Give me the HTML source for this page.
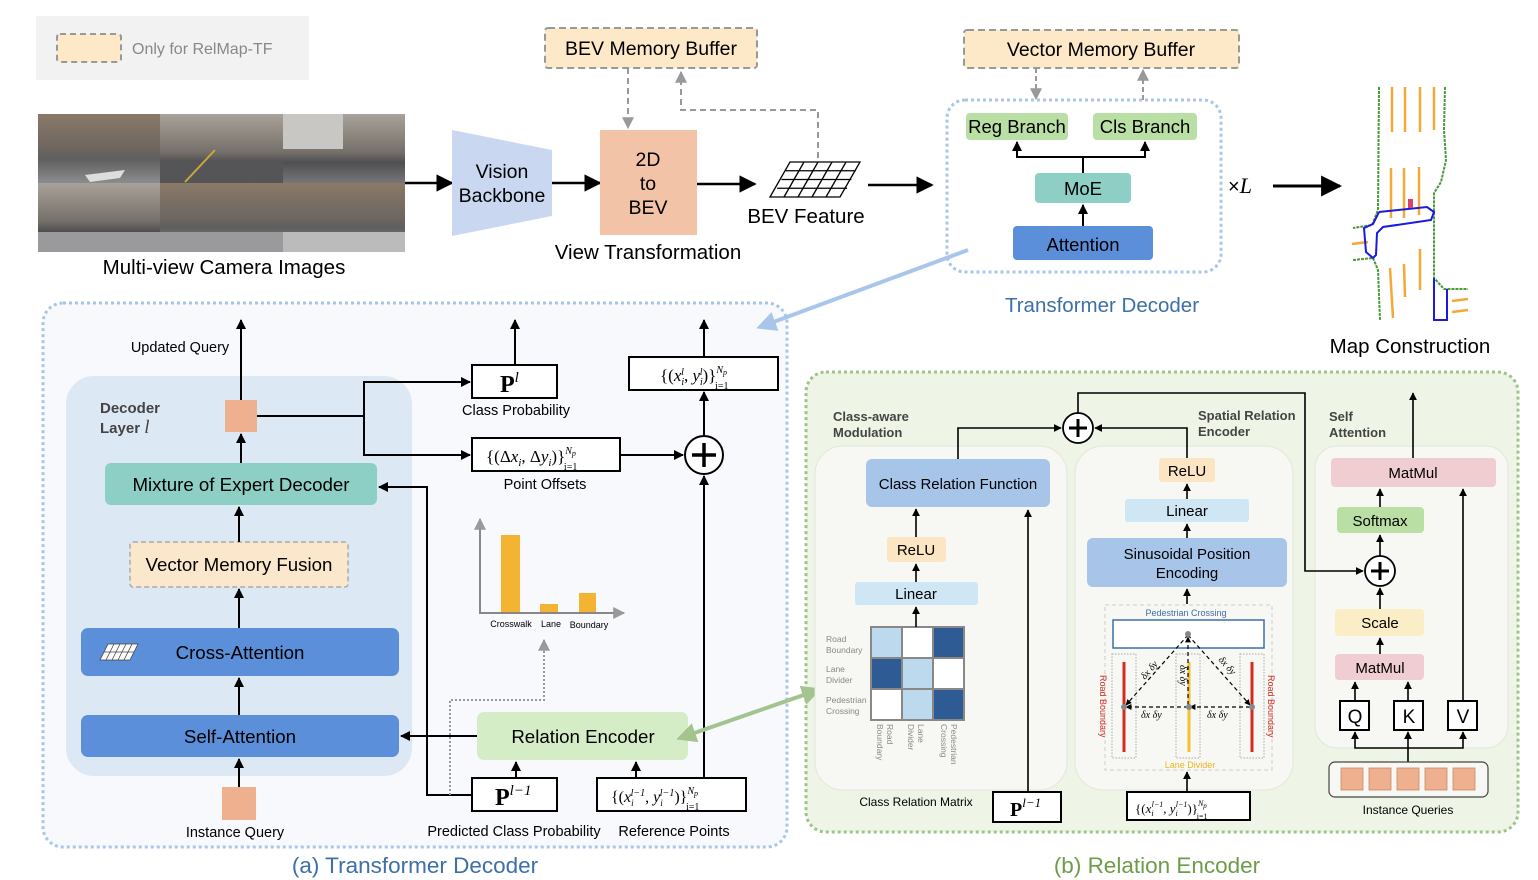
<!DOCTYPE html>
<html><head><meta charset="utf-8"><style>
html,body{margin:0;padding:0;background:#fff;}
svg{display:block;font-family:"Liberation Sans",sans-serif;}
.m{font-family:"Liberation Serif",serif;}
</style></head><body>
<svg width="1538" height="880" viewBox="0 0 1538 880" xmlns="http://www.w3.org/2000/svg">
<defs>
<marker id="a" viewBox="0 0 10 10" refX="9" refY="5" markerWidth="7" markerHeight="7" orient="auto-start-reverse"><path d="M0,0 L10,5 L0,10 z" fill="#000"/></marker>
<marker id="ag" viewBox="0 0 10 10" refX="9" refY="5" markerWidth="6" markerHeight="6" orient="auto-start-reverse"><path d="M0,0 L10,5 L0,10 z" fill="#999"/></marker>
<marker id="ab" viewBox="0 0 10 10" refX="8" refY="5" markerWidth="5" markerHeight="5" orient="auto-start-reverse"><path d="M0,0 L10,5 L0,10 z" fill="#a9c6ea"/></marker>
<marker id="agr" viewBox="0 0 10 10" refX="8" refY="5" markerWidth="5" markerHeight="5" orient="auto-start-reverse"><path d="M0,0 L10,5 L0,10 z" fill="#a3c48f"/></marker>
<marker id="as" viewBox="0 0 10 10" refX="9" refY="5" markerWidth="5" markerHeight="5" orient="auto-start-reverse"><path d="M0,0 L10,5 L0,10 z" fill="#000"/></marker>
<linearGradient id="cam" x1="0" y1="0" x2="0" y2="1"><stop offset="0" stop-color="#8a7a68"/><stop offset="0.5" stop-color="#6e6660"/><stop offset="0.65" stop-color="#5f5f60"/><stop offset="1" stop-color="#8c8c8e"/></linearGradient>
<linearGradient id="cam2" x1="0" y1="0" x2="0" y2="1"><stop offset="0" stop-color="#a9a29a"/><stop offset="0.55" stop-color="#76706a"/><stop offset="0.7" stop-color="#4f4f52"/><stop offset="1" stop-color="#77777a"/></linearGradient>
</defs>

<rect x="36" y="16" width="273" height="64" fill="#f2f2f2"/>
<rect x="57" y="34" width="64" height="28" rx="3" fill="#fde8c8" stroke="#999" stroke-width="2" stroke-dasharray="6,4"/>
<text x="132" y="54" font-size="16" fill="#888">Only for RelMap-TF</text>

<rect x="38" y="114" width="122" height="69" fill="url(#cam)"/>
<rect x="160" y="114" width="123" height="69" fill="url(#cam2)"/>
<rect x="283" y="114" width="122" height="69" fill="url(#cam2)"/>
<rect x="38" y="183" width="122" height="69" fill="url(#cam2)"/>
<rect x="160" y="183" width="123" height="69" fill="url(#cam)"/>
<rect x="283" y="183" width="122" height="69" fill="url(#cam)"/>
<rect x="283" y="114" width="60" height="35" fill="#c9c7c4"/>
<rect x="160" y="160" width="123" height="23" fill="#555558"/>
<rect x="38" y="232" width="367" height="20" fill="#9a9a9c"/>
<polygon points="85,175 125,170 120,178 90,182" fill="#ddd"/>
<line x1="185" y1="182" x2="215" y2="150" stroke="#c9a93a" stroke-width="2"/>
<rect x="283" y="232" width="122" height="20" fill="#bbb"/>
<text x="224" y="274" font-size="20.5" text-anchor="middle">Multi-view Camera Images</text>
<line x1="405" y1="183" x2="452" y2="183" stroke="#000" stroke-width="2.5" marker-end="url(#a)"/>

<polygon points="452,130 552,150 552,216 452,236" fill="#c9d8f0"/>
<text x="502" y="178" font-size="19.5" text-anchor="middle">Vision</text>
<text x="502" y="202" font-size="19.5" text-anchor="middle">Backbone</text>
<line x1="552" y1="183" x2="600" y2="183" stroke="#000" stroke-width="2.5" marker-end="url(#a)"/>
<rect x="600" y="130" width="97" height="105" fill="#f2c3a6"/>
<text x="648" y="166" font-size="19.5" text-anchor="middle">2D</text>
<text x="648" y="190" font-size="19.5" text-anchor="middle">to</text>
<text x="648" y="214" font-size="19.5" text-anchor="middle">BEV</text>
<text x="648" y="259" font-size="20.5" text-anchor="middle">View Transformation</text>
<line x1="697" y1="184" x2="755" y2="184" stroke="#000" stroke-width="2.5" marker-end="url(#a)"/>
<g stroke="#000" stroke-width="1.3" fill="#fff">
<polygon points="790,162 860,162 840,197 770,197"/>
<line x1="785.7" y1="170.75" x2="855.7" y2="170.75"/><line x1="781.4" y1="179.5" x2="851.4" y2="179.5"/><line x1="777.1" y1="188.25" x2="847.1" y2="188.25"/>
<line x1="804" y1="162" x2="784" y2="197"/><line x1="818" y1="162" x2="798" y2="197"/><line x1="832" y1="162" x2="812" y2="197"/><line x1="846" y1="162" x2="826" y2="197"/>
</g>
<text x="806" y="223" font-size="20.5" text-anchor="middle">BEV Feature</text>
<rect x="545" y="28" width="212" height="40" rx="3" fill="#fde8c8" stroke="#999" stroke-width="2" stroke-dasharray="7,4"/>
<text x="651" y="55" font-size="19.5" text-anchor="middle">BEV Memory Buffer</text>
<line x1="628" y1="68" x2="628" y2="128" stroke="#999" stroke-width="2" stroke-dasharray="6,4" marker-end="url(#ag)"/>
<polyline points="818,158 818,110 681,110 681,72" fill="none" stroke="#999" stroke-width="2" stroke-dasharray="6,4" marker-end="url(#ag)"/>

<line x1="868" y1="185" x2="932" y2="185" stroke="#000" stroke-width="2.5" marker-end="url(#a)"/>
<rect x="964" y="30" width="275" height="38" rx="3" fill="#fde8c8" stroke="#999" stroke-width="2" stroke-dasharray="7,4"/>
<text x="1101" y="56" font-size="19.5" text-anchor="middle">Vector Memory Buffer</text>
<line x1="1036" y1="68" x2="1036" y2="99" stroke="#999" stroke-width="2" stroke-dasharray="5,3" marker-end="url(#ag)"/>
<line x1="1143" y1="100" x2="1143" y2="70" stroke="#999" stroke-width="2" stroke-dasharray="5,3" marker-end="url(#ag)"/>
<rect x="947" y="100" width="274" height="172" rx="18" fill="#fff" stroke="#a9c6ea" stroke-width="3" stroke-dasharray="3,3"/>
<rect x="966" y="113" width="102" height="27" rx="4" fill="#b9dfa5"/>
<text x="1017" y="133" font-size="18.5" text-anchor="middle">Reg Branch</text>
<rect x="1093" y="113" width="104" height="27" rx="4" fill="#b9dfa5"/>
<text x="1145" y="133" font-size="18.5" text-anchor="middle">Cls Branch</text>
<rect x="1035" y="173" width="96" height="30" rx="4" fill="#8ecfc5"/>
<text x="1083" y="195" font-size="18.5" text-anchor="middle">MoE</text>
<rect x="1013" y="226" width="140" height="34" rx="4" fill="#5b8fd9"/>
<text x="1083" y="251" font-size="18.5" text-anchor="middle">Attention</text>
<line x1="1083" y1="226" x2="1083" y2="205" stroke="#000" stroke-width="2" marker-end="url(#as)"/>
<polyline points="1083,173 1083,157 1017,157 1017,142" fill="none" stroke="#000" stroke-width="2" marker-end="url(#as)"/>
<polyline points="1083,157 1145,157 1145,142" fill="none" stroke="#000" stroke-width="2" marker-end="url(#as)"/>
<text x="1102" y="312" font-size="20.5" text-anchor="middle" fill="#3d6fa8">Transformer Decoder</text>
<text x="1228" y="193" font-size="20">×<tspan class="m" font-style="italic" font-size="22">L</tspan></text>
<line x1="1273" y1="186" x2="1340" y2="186" stroke="#000" stroke-width="3" marker-end="url(#a)"/>

<g fill="none" stroke-width="2">
<g stroke="#f3a93a" stroke-width="2.5">
<line x1="1392" y1="87" x2="1392" y2="132"/><line x1="1405" y1="87" x2="1405" y2="132"/><line x1="1420" y1="87" x2="1420" y2="132"/><line x1="1434" y1="87" x2="1434" y2="130"/>
<line x1="1391" y1="168" x2="1391" y2="218"/><line x1="1404" y1="168" x2="1404" y2="218"/><line x1="1419" y1="167" x2="1419" y2="215"/>
<line x1="1390" y1="268" x2="1393" y2="318"/><line x1="1404" y1="264" x2="1405" y2="297"/><line x1="1420" y1="249" x2="1420" y2="290"/>
<line x1="1352" y1="244" x2="1368" y2="242"/><line x1="1452" y1="301" x2="1468" y2="299"/><line x1="1452" y1="312" x2="1468" y2="310"/>
</g>
<polyline stroke="#4a9a3a" stroke-dasharray="3,1" points="1379,87 1378,210 1372,225 1353,228"/>
<polyline stroke="#4a9a3a" stroke-dasharray="3,1" points="1353,260 1373,258 1378,270 1380,320"/>
<polyline stroke="#4a9a3a" stroke-dasharray="3,1" points="1445,87 1444,130 1446,160 1441,182 1434,193 1434,278 1444,289 1468,289"/>
<polyline stroke="#1a1ae0" points="1379,212 1427,207 1434,212 1431,220 1383,227 1377,233 1376,255 1373,258 1366,252 1364,228 1373,224 1379,212"/>
<polyline stroke="#1a1ae0" points="1434,278 1434,320 1447,320 1447,289"/>
<rect x="1408" y="199" width="5" height="9" fill="#d9406a" stroke="none"/>
</g>
<text x="1410" y="353" font-size="20.5" text-anchor="middle">Map Construction</text>

<rect x="43" y="303" width="744" height="544" rx="20" fill="#f7f9fd" stroke="#a9c6ea" stroke-width="3" stroke-dasharray="3,3"/>
<rect x="66" y="376" width="346" height="400" rx="28" fill="#dde8f5"/>
<text x="100" y="413" font-size="15" font-weight="bold" fill="#444">Decoder</text>
<text x="100" y="433" font-size="15" font-weight="bold" fill="#444">Layer <tspan class="m" font-style="italic" font-size="19" font-weight="normal">l</tspan></text>
<rect x="225" y="400" width="32" height="32" fill="#eeb08f"/>
<rect x="105" y="463" width="272" height="42" rx="6" fill="#8ecfc5"/>
<text x="241" y="491" font-size="18.7" text-anchor="middle">Mixture of Expert Decoder</text>
<rect x="130" y="542" width="218" height="45" rx="3" fill="#fbe8cc" stroke="#aaa" stroke-width="1.5" stroke-dasharray="5,3"/>
<text x="239" y="571" font-size="18.7" text-anchor="middle">Vector Memory Fusion</text>
<rect x="81" y="628" width="318" height="48" rx="7" fill="#5b8fd9"/>
<text x="240" y="659" font-size="18.7" text-anchor="middle">Cross-Attention</text>
<g stroke="#444" stroke-width="0.8" fill="#fff">
<polygon points="108,644 138,644 130,660 100,660"/>
<line x1="104" y1="652" x2="134" y2="652"/><line x1="114" y1="644" x2="106" y2="660"/><line x1="120" y1="644" x2="112" y2="660"/><line x1="126" y1="644" x2="118" y2="660"/><line x1="132" y1="644" x2="124" y2="660"/>
</g>
<rect x="81" y="715" width="318" height="42" rx="7" fill="#5b8fd9"/>
<text x="240" y="743" font-size="18.7" text-anchor="middle">Self-Attention</text>
<rect x="222" y="787" width="34" height="33" fill="#eeb08f"/>
<text x="235" y="837" font-size="14.5" text-anchor="middle">Instance Query</text>
<g stroke="#000" stroke-width="2" fill="none">
<line x1="239" y1="787" x2="239" y2="759" marker-end="url(#as)"/>
<line x1="239" y1="715" x2="239" y2="678" marker-end="url(#as)"/>
<line x1="239" y1="628" x2="239" y2="589" marker-end="url(#as)"/>
<line x1="239" y1="542" x2="239" y2="507" marker-end="url(#as)"/>
<line x1="241" y1="463" x2="241" y2="434" marker-end="url(#as)"/>
<line x1="241" y1="400" x2="241" y2="320" marker-end="url(#as)"/>
<polyline points="257,416 364,416 364,382 470,382" marker-end="url(#as)"/>
<polyline points="364,416 364,455 470,455" marker-end="url(#as)"/>
<line x1="515" y1="365" x2="515" y2="320" marker-end="url(#as)"/>
<line x1="620" y1="455" x2="683" y2="455" marker-end="url(#as)"/>
<line x1="704" y1="436" x2="704" y2="392" marker-end="url(#as)"/>
<line x1="704" y1="357" x2="704" y2="320" marker-end="url(#as)"/>
<line x1="704" y1="778" x2="704" y2="476" marker-end="url(#as)"/>
<line x1="477" y1="736" x2="401" y2="736" marker-end="url(#as)"/>
<polyline points="472,795 427,795 427,487 379,487" marker-end="url(#as)"/>
<line x1="516" y1="778" x2="516" y2="762" marker-end="url(#as)"/>
<line x1="636" y1="778" x2="636" y2="762" marker-end="url(#as)"/>
</g>
<text x="180" y="352" font-size="14.5" text-anchor="middle">Updated Query</text>
<rect x="472" y="365" width="85" height="33" fill="#fff" stroke="#000" stroke-width="2"/>
<text x="500" y="392" class="m" font-size="24" font-weight="bold">P<tspan font-size="15" font-weight="normal" font-style="italic" dy="-10">l</tspan></text>
<text x="516" y="415" font-size="14.5" text-anchor="middle">Class Probability</text>
<rect x="472" y="438" width="148" height="33" fill="#fff" stroke="#000" stroke-width="2"/>
<text x="486" y="462" class="m" font-size="17">{(Δ<tspan font-style="italic">x</tspan><tspan font-size="11" font-style="italic" dy="4">i</tspan><tspan dy="-4">, Δ</tspan><tspan font-style="italic">y</tspan><tspan font-size="11" font-style="italic" dy="4">i</tspan><tspan dy="-4">)}</tspan><tspan font-size="10" font-style="italic" dy="-8">N</tspan><tspan font-size="8" font-style="italic" dy="2">p</tspan><tspan font-size="10" dx="-12" dy="14">i=1</tspan></text>
<text x="545" y="489" font-size="14.5" text-anchor="middle">Point Offsets</text>
<rect x="629" y="357" width="149" height="33" fill="#fff" stroke="#000" stroke-width="2"/>
<text x="660" y="381" class="m" font-size="17">{(<tspan font-style="italic">x</tspan><tspan font-size="10" font-style="italic" dy="4">i</tspan><tspan font-size="10" font-style="italic" dx="-3" dy="-10">l</tspan><tspan dy="6">, </tspan><tspan font-style="italic">y</tspan><tspan font-size="10" font-style="italic" dy="4">i</tspan><tspan font-size="10" font-style="italic" dx="-3" dy="-10">l</tspan><tspan dy="6">)}</tspan><tspan font-size="10" font-style="italic" dy="-8">N</tspan><tspan font-size="8" font-style="italic" dy="2">p</tspan><tspan font-size="10" dx="-12" dy="14">i=1</tspan></text>
<circle cx="704" cy="455" r="19" fill="#fff" stroke="#000" stroke-width="2"/>
<path d="M692,455 H716 M704,443 V467" stroke="#000" stroke-width="3.5"/>
<rect x="501" y="535" width="19" height="78" fill="#f3b431"/>
<rect x="540" y="604" width="18" height="9" fill="#f3b431"/>
<rect x="579" y="593" width="17" height="20" fill="#f3b431"/>
<line x1="480" y1="613" x2="480" y2="519" stroke="#888" stroke-width="2" marker-end="url(#ag)"/>
<line x1="479" y1="613" x2="624" y2="613" stroke="#888" stroke-width="2" marker-end="url(#ag)"/>
<text x="511" y="627" font-size="9" text-anchor="middle">Crosswalk</text>
<text x="551" y="627" font-size="9" text-anchor="middle">Lane</text>
<text x="589" y="628" font-size="9" text-anchor="middle">Boundary</text>
<polyline points="450,795 450,700 544,700 544,640" fill="none" stroke="#999" stroke-width="2" stroke-dasharray="2,2" marker-end="url(#ag)"/>
<rect x="477" y="712" width="211" height="48" rx="7" fill="#d5edc6"/>
<text x="583" y="743" font-size="18.7" text-anchor="middle">Relation Encoder</text>
<rect x="472" y="778" width="85" height="33" fill="#fff" stroke="#000" stroke-width="2"/>
<text x="495" y="805" class="m" font-size="24" font-weight="bold">P<tspan font-size="15" font-weight="normal" font-style="italic" dy="-10">l−1</tspan></text>
<rect x="597" y="778" width="149" height="33" fill="#fff" stroke="#000" stroke-width="2"/>
<text x="611" y="802" class="m" font-size="16">{(<tspan font-style="italic">x</tspan><tspan font-size="9" font-style="italic" dy="4">i</tspan><tspan font-size="10" font-style="italic" dx="-3" dy="-10">l−1</tspan><tspan dy="6">, </tspan><tspan font-style="italic">y</tspan><tspan font-size="9" font-style="italic" dy="4">i</tspan><tspan font-size="10" font-style="italic" dx="-3" dy="-10">l−1</tspan><tspan dy="6">)}</tspan><tspan font-size="10" font-style="italic" dy="-8">N</tspan><tspan font-size="8" font-style="italic" dy="2">p</tspan><tspan font-size="10" dx="-12" dy="14">i=1</tspan></text>
<text x="514" y="836" font-size="14.5" text-anchor="middle">Predicted Class Probability</text>
<text x="674" y="836" font-size="14.5" text-anchor="middle">Reference Points</text>
<text x="415" y="873" font-size="22.5" text-anchor="middle" fill="#3d6fa8">(a) Transformer Decoder</text>
<line x1="968" y1="250" x2="760" y2="327" stroke="#a9c6ea" stroke-width="4" marker-end="url(#ab)"/>

<rect x="806" y="372" width="712" height="460" rx="20" fill="#eef4e6" stroke="#9fc48a" stroke-width="3" stroke-dasharray="3,3"/>
<line x1="818" y1="690" x2="680" y2="738" stroke="#a3c48f" stroke-width="4" marker-end="url(#agr)" marker-start="url(#agr)"/>
<rect x="815" y="446" width="252" height="344" rx="28" fill="#f7f8f4" stroke="#e2e6dc"/>
<rect x="1075" y="446" width="218" height="344" rx="28" fill="#f7f8f4" stroke="#e2e6dc"/>
<rect x="1315" y="446" width="193" height="302" rx="22" fill="#f7f8f4" stroke="#e2e6dc"/>
<g font-size="13" font-weight="bold" fill="#444">
<text x="833" y="421">Class-aware</text><text x="833" y="437">Modulation</text>
<text x="1198" y="420">Spatial Relation</text><text x="1198" y="436">Encoder</text>
<text x="1329" y="421">Self</text><text x="1329" y="437">Attention</text>
</g>
<rect x="866" y="459" width="184" height="48" rx="6" fill="#a7c4e9"/>
<text x="958" y="489" font-size="15" text-anchor="middle">Class Relation Function</text>
<rect x="887" y="537" width="59" height="25" rx="3" fill="#fbe5c3"/>
<text x="916" y="555" font-size="15" text-anchor="middle">ReLU</text>
<rect x="855" y="582" width="123" height="23" rx="3" fill="#cfe6f5"/>
<text x="916" y="599" font-size="15" text-anchor="middle">Linear</text>
<g stroke="#888" stroke-width="2">
<rect x="871" y="627" width="31" height="31" fill="#bcd9ee"/><rect x="902" y="627" width="31" height="31" fill="#fff"/><rect x="933" y="627" width="31" height="31" fill="#2f5b94"/>
<rect x="871" y="658" width="31" height="31" fill="#2f5b94"/><rect x="902" y="658" width="31" height="31" fill="#bcd9ee"/><rect x="933" y="658" width="31" height="31" fill="#fff"/>
<rect x="871" y="689" width="31" height="31" fill="#fff"/><rect x="902" y="689" width="31" height="31" fill="#bcd9ee"/><rect x="933" y="689" width="31" height="31" fill="#2f5b94"/>
</g>
<g font-size="8.5" fill="#888">
<text x="826" y="642">Road</text><text x="826" y="653">Boundary</text>
<text x="826" y="672">Lane</text><text x="826" y="683">Divider</text>
<text x="826" y="703">Pedestrian</text><text x="826" y="714">Crossing</text>
<text transform="translate(887,724) rotate(90)">Road</text><text transform="translate(877,724) rotate(90)">Boundary</text>
<text transform="translate(918,724) rotate(90)">Lane</text><text transform="translate(908,724) rotate(90)">Divider</text>
<text transform="translate(951,724) rotate(90)">Pedestrian</text><text transform="translate(941,724) rotate(90)">Crossing</text>
</g>
<text x="916" y="806" font-size="12" text-anchor="middle">Class Relation Matrix</text>
<rect x="993" y="792" width="68" height="30" fill="#fff" stroke="#000" stroke-width="2"/>
<text x="1010" y="816" class="m" font-size="20" font-weight="bold">P<tspan font-size="13" font-weight="normal" font-style="italic" dy="-9">l−1</tspan></text>
<g stroke="#000" stroke-width="1.6" fill="none">
<line x1="1028" y1="792" x2="1028" y2="510" marker-end="url(#as)"/>
<line x1="916" y1="627" x2="916" y2="607" marker-end="url(#as)"/>
<line x1="916" y1="582" x2="916" y2="564" marker-end="url(#as)"/>
<line x1="916" y1="537" x2="916" y2="509" marker-end="url(#as)"/>
<polyline points="958,459 958,428 1061,428" marker-end="url(#as)"/>
<polyline points="1187,458 1187,428 1095,428" marker-end="url(#as)"/>
<polyline points="1078,413 1078,393 1305,393 1305,571 1363,571" marker-end="url(#as)"/>
<line x1="1187" y1="499" x2="1187" y2="484" marker-end="url(#as)"/>
<line x1="1187" y1="538" x2="1187" y2="524" marker-end="url(#as)"/>
<line x1="1187" y1="604" x2="1187" y2="589" marker-end="url(#as)"/>
<line x1="1187" y1="792" x2="1187" y2="772" marker-end="url(#as)"/>
<line x1="1413" y1="458" x2="1413" y2="393" marker-end="url(#as)"/>
<line x1="1380" y1="507" x2="1380" y2="489" marker-end="url(#as)"/>
<line x1="1380" y1="556" x2="1380" y2="535" marker-end="url(#as)"/>
<line x1="1380" y1="609" x2="1380" y2="588" marker-end="url(#as)"/>
<line x1="1380" y1="654" x2="1380" y2="638" marker-end="url(#as)"/>
<line x1="1355" y1="701" x2="1355" y2="682" marker-end="url(#as)"/>
<line x1="1408" y1="701" x2="1408" y2="682" marker-end="url(#as)"/>
<line x1="1463" y1="701" x2="1463" y2="489" marker-end="url(#as)"/>
<polyline points="1408,762 1408,748 1355,748 1355,732" marker-end="url(#as)"/>
<polyline points="1408,748 1463,748 1463,732" marker-end="url(#as)"/>
<line x1="1408" y1="748" x2="1408" y2="732" marker-end="url(#as)"/>
</g>
<circle cx="1078" cy="428" r="15" fill="#fff" stroke="#000" stroke-width="1.8"/>
<path d="M1069,428 H1087 M1078,419 V437" stroke="#000" stroke-width="3"/>
<rect x="1159" y="458" width="56" height="24" rx="3" fill="#fbe5c3"/>
<text x="1187" y="476" font-size="15" text-anchor="middle">ReLU</text>
<rect x="1125" y="499" width="124" height="23" rx="3" fill="#cfe6f5"/>
<text x="1187" y="516" font-size="15" text-anchor="middle">Linear</text>
<rect x="1087" y="538" width="200" height="49" rx="6" fill="#a7c4e9"/>
<text x="1187" y="559" font-size="15" text-anchor="middle">Sinusoidal Position</text>
<text x="1187" y="578" font-size="15" text-anchor="middle">Encoding</text>
<rect x="1105" y="605" width="167" height="165" fill="none" stroke="#ccc" stroke-dasharray="4,3"/>
<text x="1186" y="616" font-size="9" text-anchor="middle" fill="#3d6fa8">Pedestrian Crossing</text>
<rect x="1113" y="620" width="151" height="28" fill="#fff" stroke="#3d6fa8" stroke-width="1.5"/>
<g fill="none" stroke="#aaa" stroke-dasharray="1.5,1.5"><rect x="1112" y="654" width="24" height="104"/><rect x="1176" y="654" width="24" height="104"/><rect x="1240" y="654" width="24" height="104"/></g>
<line x1="1124" y1="662" x2="1124" y2="752" stroke="#d42a22" stroke-width="3"/>
<line x1="1252" y1="662" x2="1252" y2="752" stroke="#d42a22" stroke-width="3"/>
<line x1="1189" y1="662" x2="1189" y2="752" stroke="#f2c230" stroke-width="3"/>
<g stroke="#000" stroke-width="1.2" stroke-dasharray="4,3" fill="none">
<line x1="1188" y1="635" x2="1126" y2="705" marker-end="url(#as)"/><line x1="1188" y1="635" x2="1250" y2="705" marker-end="url(#as)"/>
<line x1="1188" y1="705" x2="1188" y2="637" marker-end="url(#as)"/>
<line x1="1188" y1="707" x2="1126" y2="707" marker-end="url(#as)"/><line x1="1250" y1="707" x2="1190" y2="707" marker-end="url(#as)"/>
</g>
<g fill="#888"><circle cx="1188" cy="634" r="3"/><circle cx="1124" cy="707" r="3"/><circle cx="1189" cy="707" r="3"/><circle cx="1252" cy="707" r="3"/></g>
<g class="m" font-size="10" font-style="italic">
<text x="1141" y="718">δx δy</text><text x="1207" y="718">δx δy</text>
<text transform="translate(1145,680) rotate(-50)">δx δy</text><text transform="translate(1218,660) rotate(48)">δx δy</text>
<text transform="translate(1180,665) rotate(90)">δx δy</text>
</g>
<text transform="translate(1100,675) rotate(90)" font-size="9" fill="#d42a22">Road Boundary</text>
<text transform="translate(1268,675) rotate(90)" font-size="9" fill="#d42a22">Road Boundary</text>
<text x="1190" y="768" font-size="9" text-anchor="middle" fill="#e8b520">Lane Divider</text>
<rect x="1127" y="792" width="123" height="28" fill="#fff" stroke="#000" stroke-width="2"/>
<text x="1135" y="813" class="m" font-size="13">{(<tspan font-style="italic">x</tspan><tspan font-size="8" font-style="italic" dy="3">i</tspan><tspan font-size="8" font-style="italic" dx="-2" dy="-9">l−1</tspan><tspan dy="6">, </tspan><tspan font-style="italic">y</tspan><tspan font-size="8" font-style="italic" dy="3">i</tspan><tspan font-size="8" font-style="italic" dx="-2" dy="-9">l−1</tspan><tspan dy="6">)}</tspan><tspan font-size="8" font-style="italic" dy="-7">N</tspan><tspan font-size="7" font-style="italic" dy="2">p</tspan><tspan font-size="8" dx="-10" dy="11">i=1</tspan></text>
<rect x="1331" y="458" width="165" height="29" rx="4" fill="#f0cdd0"/>
<text x="1413" y="478" font-size="15" text-anchor="middle">MatMul</text>
<rect x="1337" y="507" width="87" height="26" rx="4" fill="#b9dfa5"/>
<text x="1380" y="526" font-size="15" text-anchor="middle">Softmax</text>
<circle cx="1380" cy="571" r="15" fill="#fff" stroke="#000" stroke-width="1.8"/>
<path d="M1371,571 H1389 M1380,562 V580" stroke="#000" stroke-width="3"/>
<rect x="1335" y="609" width="89" height="27" rx="4" fill="#fbeec6"/>
<text x="1380" y="628" font-size="15" text-anchor="middle">Scale</text>
<rect x="1335" y="654" width="89" height="26" rx="4" fill="#f0cdd0"/>
<text x="1380" y="673" font-size="15" text-anchor="middle">MatMul</text>
<g fill="#fff" stroke="#000" stroke-width="2"><rect x="1340" y="701" width="29" height="29"/><rect x="1394" y="701" width="29" height="29"/><rect x="1448" y="701" width="29" height="29"/></g>
<g font-size="19" text-anchor="middle"><text x="1355" y="723">Q</text><text x="1409" y="723">K</text><text x="1463" y="723">V</text></g>
<rect x="1329" y="762" width="159" height="35" rx="6" fill="#f7f8f4" stroke="#444" stroke-width="1.2"/>
<g fill="#eeb08f" stroke="#c98a6a" stroke-width="0.8"><rect x="1341" y="768" width="22" height="22"/><rect x="1369" y="768" width="22" height="22"/><rect x="1397" y="768" width="22" height="22"/><rect x="1425" y="768" width="22" height="22"/><rect x="1453" y="768" width="22" height="22"/></g>
<text x="1408" y="814" font-size="12" text-anchor="middle">Instance Queries</text>
<text x="1157" y="873" font-size="22.5" text-anchor="middle" fill="#6d9c4a">(b) Relation Encoder</text>
</svg>
</body></html>
